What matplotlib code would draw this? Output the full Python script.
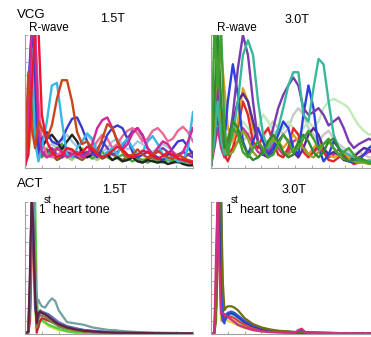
import numpy as np
import matplotlib.pyplot as plt

plt.rcParams['font.family'] = ['Liberation Sans', 'DejaVu Sans']

# shared x grid (percent of beat) for the VCG traces
x_vcg = [0, 2, 4, 6, 8, 10, 13, 16, 19, 22, 25, 28, 31, 34, 37, 40, 43, 46, 49, 52,
         55, 58, 61, 64, 67, 70, 73, 76, 79, 82, 85, 88, 91, 94, 97, 100]

# VCG 1.5T
v15_orange = [0.05, 0.72, 0.3, 0.15, 0.35, 0.3, 0.22, 0.32, 0.52, 0.66, 0.66, 0.5, 0.27, 0.18, 0.2, 0.15, 0.12, 0.22,
              0.33, 0.3, 0.2, 0.12, 0.08, 0.1, 0.14, 0.1, 0.08, 0.1, 0.13, 0.1, 0.08, 0.07, 0.1, 0.08, 0.06, 0.05]
v15_cyan = [0.05, 0.4, 0.9, 0.2, 0.05, 0.15, 0.35, 0.62, 0.64, 0.35, 0.1, 0.08, 0.15, 0.2, 0.26, 0.22, 0.1, 0.08,
            0.12, 0.15, 0.1, 0.18, 0.22, 0.15, 0.1, 0.12, 0.2, 0.24, 0.18, 0.1, 0.06, 0.08, 0.05, 0.05, 0.15, 0.42]
v15_blue = [0.05, 0.6, 1.05, 0.5, 0.1, 0.22, 0.27, 0.2, 0.18, 0.22, 0.3, 0.37, 0.38, 0.3, 0.2, 0.12, 0.08, 0.15,
            0.25, 0.3, 0.32, 0.3, 0.22, 0.12, 0.08, 0.1, 0.12, 0.1, 0.08, 0.06, 0.1, 0.15, 0.2, 0.21, 0.16, 0.1]
v15_magenta = [0.03, 0.3, 1.05, 1.05, 0.3, 0.12, 0.08, 0.1, 0.15, 0.12, 0.08, 0.1, 0.12, 0.08, 0.1, 0.18, 0.3, 0.36,
               0.38, 0.3, 0.2, 0.14, 0.18, 0.26, 0.3, 0.25, 0.15, 0.1, 0.15, 0.2, 0.18, 0.12, 0.08, 0.12, 0.2, 0.3]
v15_pink = [0.03, 0.2, 0.8, 1.05, 0.5, 0.2, 0.1, 0.08, 0.1, 0.12, 0.15, 0.12, 0.1, 0.08, 0.1, 0.14, 0.2, 0.25,
            0.22, 0.15, 0.18, 0.24, 0.28, 0.3, 0.26, 0.2, 0.22, 0.28, 0.3, 0.26, 0.2, 0.22, 0.28, 0.31, 0.27, 0.2]
v15_purple = [0.03, 0.5, 1.05, 0.8, 0.2, 0.1, 0.12, 0.15, 0.1, 0.08, 0.12, 0.1, 0.08, 0.1, 0.12, 0.1, 0.14, 0.2,
              0.15, 0.1, 0.12, 0.16, 0.22, 0.28, 0.3, 0.24, 0.15, 0.1, 0.12, 0.15, 0.12, 0.08, 0.1, 0.12, 0.1, 0.08]
v15_red = [0.02, 0.1, 0.6, 1.05, 1.05, 0.4, 0.2, 0.12, 0.08, 0.1, 0.15, 0.14, 0.1, 0.12, 0.16, 0.14, 0.1, 0.08,
           0.1, 0.13, 0.16, 0.14, 0.1, 0.08, 0.1, 0.13, 0.12, 0.09, 0.07, 0.09, 0.12, 0.1, 0.07, 0.06, 0.05, 0.04]
v15_black = [0.02, 0.2, 0.7, 0.4, 0.1, 0.15, 0.22, 0.25, 0.2, 0.14, 0.2, 0.25, 0.2, 0.12, 0.08, 0.1, 0.12, 0.08,
             0.1, 0.06, 0.08, 0.05, 0.06, 0.08, 0.05, 0.04, 0.06, 0.05, 0.04, 0.05, 0.03, 0.04, 0.05, 0.03, 0.02, 0.02]
v15_green = [0.02, 0.3, 0.85, 0.3, 0.1, 0.08, 0.12, 0.1, 0.14, 0.18, 0.12, 0.08, 0.1, 0.14, 0.1, 0.07, 0.1, 0.12,
             0.08, 0.06, 0.08, 0.1, 0.07, 0.05, 0.07, 0.06, 0.04, 0.06, 0.05, 0.04, 0.06, 0.05, 0.04, 0.05, 0.04, 0.03]
v15_ltblue = [0.02, 0.15, 1.05, 0.6, 0.15, 0.12, 0.15, 0.18, 0.15, 0.2, 0.25, 0.2, 0.16, 0.2, 0.25, 0.2, 0.15, 0.12,
              0.15, 0.2, 0.22, 0.18, 0.14, 0.16, 0.2, 0.18, 0.14, 0.12, 0.15, 0.18, 0.16, 0.12, 0.1, 0.12, 0.14, 0.12]
v15_brown = [0.02, 0.25, 0.5, 0.2, 0.08, 0.1, 0.14, 0.1, 0.06, 0.08, 0.1, 0.12, 0.08, 0.06, 0.09, 0.12, 0.1, 0.07,
             0.09, 0.11, 0.08, 0.06, 0.08, 0.1, 0.07, 0.05, 0.07, 0.08, 0.06, 0.05, 0.07, 0.06, 0.05, 0.07, 0.1, 0.12]
v15_ltgreen = [0.02, 0.1, 0.3, 0.5, 0.2, 0.1, 0.08, 0.12, 0.16, 0.12, 0.08, 0.06, 0.1, 0.15, 0.12, 0.08, 0.06, 0.09,
               0.12, 0.1, 0.07, 0.05, 0.08, 0.1, 0.08, 0.06, 0.08, 0.1, 0.08, 0.06, 0.05, 0.07, 0.06, 0.04, 0.05, 0.04]

# VCG 3.0T
v30_teal = [0.02, 0.2, 0.5, 0.2, 0.1, 0.15, 0.25, 0.5, 0.85, 0.96, 0.85, 0.5, 0.25, 0.15, 0.2, 0.3, 0.45, 0.62,
            0.72, 0.72, 0.4, 0.35, 0.6, 0.82, 0.78, 0.5, 0.25, 0.15, 0.12, 0.1, 0.08, 0.06, 0.05, 0.05, 0.06, 0.05]
v30_purple = [0.02, 0.3, 0.6, 0.3, 0.1, 0.15, 0.4, 0.75, 1.0, 0.85, 0.5, 0.2, 0.1, 0.15, 0.3, 0.45, 0.55, 0.62,
              0.68, 0.62, 0.45, 0.4, 0.42, 0.45, 0.4, 0.32, 0.35, 0.38, 0.3, 0.2, 0.15, 0.18, 0.2, 0.22, 0.2, 0.22]
v30_blue = [0.02, 0.3, 0.5, 0.3, 0.2, 0.5, 0.78, 0.55, 0.2, 0.1, 0.2, 0.3, 0.2, 0.1, 0.15, 0.25, 0.35, 0.3,
            0.15, 0.1, 0.4, 0.62, 0.45, 0.15, 0.05, 0.1, 0.2, 0.15, 0.08, 0.05, 0.04, 0.06, 0.1, 0.15, 0.18, 0.14]
v30_orange = [0.02, 0.3, 0.7, 0.87, 0.6, 0.3, 0.2, 0.35, 0.6, 0.5, 0.3, 0.2, 0.15, 0.2, 0.25, 0.2, 0.15, 0.2,
              0.25, 0.2, 0.15, 0.1, 0.15, 0.2, 0.15, 0.1, 0.08, 0.1, 0.12, 0.08, 0.05, 0.04, 0.05, 0.06, 0.05, 0.04]
v30_green = [0.02, 1.05, 0.6, 1.05, 0.3, 0.1, 0.3, 0.25, 0.12, 0.08, 0.15, 0.2, 0.14, 0.08, 0.1, 0.18, 0.25, 0.2,
             0.12, 0.15, 0.22, 0.28, 0.22, 0.15, 0.18, 0.22, 0.15, 0.1, 0.12, 0.15, 0.1, 0.06, 0.05, 0.04, 0.05, 0.04]
v30_dkgreen = [0.02, 0.5, 1.05, 0.5, 0.15, 0.2, 0.35, 0.3, 0.18, 0.1, 0.06, 0.08, 0.12, 0.2, 0.25, 0.2, 0.12, 0.08,
               0.1, 0.2, 0.25, 0.2, 0.12, 0.08, 0.12, 0.2, 0.22, 0.15, 0.08, 0.05, 0.06, 0.08, 0.06, 0.04, 0.03, 0.03]
v30_red = [0.02, 0.2, 0.5, 0.3, 0.1, 0.05, 0.15, 0.3, 0.5, 0.4, 0.2, 0.15, 0.25, 0.3, 0.2, 0.1, 0.08, 0.15,
           0.3, 0.25, 0.12, 0.08, 0.12, 0.18, 0.12, 0.06, 0.05, 0.08, 0.1, 0.06, 0.03, 0.04, 0.06, 0.04, 0.03, 0.03]
v30_pale = [0.02, 0.2, 0.7, 0.4, 0.2, 0.15, 0.2, 0.3, 0.35, 0.3, 0.25, 0.3, 0.4, 0.35, 0.28, 0.25, 0.3, 0.35,
            0.3, 0.25, 0.3, 0.35, 0.3, 0.35, 0.45, 0.5, 0.52, 0.5, 0.48, 0.45, 0.38, 0.32, 0.28, 0.25, 0.26, 0.28]
v30_gray = [0.02, 0.3, 0.6, 0.3, 0.2, 0.25, 0.3, 0.25, 0.2, 0.25, 0.3, 0.28, 0.22, 0.3, 0.35, 0.3, 0.25, 0.3,
            0.4, 0.45, 0.4, 0.3, 0.25, 0.2, 0.25, 0.28, 0.22, 0.18, 0.15, 0.12, 0.1, 0.12, 0.1, 0.08, 0.08, 0.07]
v30_dkpurple = [0.02, 0.2, 0.4, 0.2, 0.1, 0.2, 0.35, 0.5, 0.56, 0.5, 0.35, 0.2, 0.1, 0.08, 0.12, 0.2, 0.25, 0.2,
                0.12, 0.08, 0.15, 0.25, 0.3, 0.25, 0.15, 0.1, 0.12, 0.1, 0.06, 0.05, 0.08, 0.12, 0.15, 0.14, 0.1, 0.08]
v30_olive = [0.02, 0.4, 0.9, 0.4, 0.15, 0.1, 0.12, 0.2, 0.28, 0.22, 0.12, 0.08, 0.12, 0.18, 0.22, 0.18, 0.12, 0.1,
             0.14, 0.18, 0.15, 0.1, 0.08, 0.12, 0.18, 0.2, 0.15, 0.1, 0.07, 0.06, 0.05, 0.04, 0.04, 0.03, 0.03, 0.03]
v30_magenta = [0.02, 0.15, 0.3, 0.15, 0.08, 0.1, 0.15, 0.2, 0.3, 0.25, 0.18, 0.12, 0.1, 0.12, 0.18, 0.15, 0.1, 0.12,
               0.2, 0.22, 0.16, 0.1, 0.12, 0.15, 0.12, 0.08, 0.1, 0.14, 0.12, 0.08, 0.06, 0.08, 0.1, 0.12, 0.15, 0.16]

# shared x grid for the ACT traces
x_act = [0, 2, 3, 4, 5, 6, 7, 8, 9, 10, 12, 14, 16, 18, 20, 25, 30, 35, 40, 45, 50, 52, 54, 56, 60, 70, 80, 90, 100]

# ACT 1.5T
a15_gray = [0, 0.02, 0.4, 1.05, 1.05, 0.5, 0.22, 0.26, 0.23, 0.21, 0.2, 0.24, 0.27, 0.25, 0.18, 0.09, 0.08, 0.07,
            0.05, 0.04, 0.03, 0.03, 0.025, 0.025, 0.02, 0.012, 0.01, 0.008, 0.006]
a15_maroon = [0, 0.02, 0.5, 1.05, 0.8, 0.3, 0.08, 0.16, 0.17, 0.16, 0.15, 0.13, 0.11, 0.09, 0.075, 0.05, 0.035, 0.025,
              0.02, 0.015, 0.012, 0.011, 0.01, 0.01, 0.01, 0.008, 0.006, 0.005, 0.005]
a15_slate = [0, 0.02, 0.3, 1.05, 1.05, 0.4, 0.1, 0.15, 0.18, 0.17, 0.16, 0.15, 0.13, 0.11, 0.09, 0.06, 0.045, 0.03,
             0.025, 0.02, 0.015, 0.013, 0.012, 0.011, 0.01, 0.008, 0.006, 0.005, 0.005]
a15_green = [0, 0.01, 0.2, 0.9, 1.05, 1.05, 0.3, 0.05, 0.1, 0.1, 0.09, 0.07, 0.06, 0.05, 0.04, 0.02, 0.012, 0.01,
             0.01, 0.01, 0.01, 0.025, 0.03, 0.015, 0.008, 0.006, 0.005, 0.004, 0.004]
a15_yellow = [0, 0.01, 0.3, 1.05, 0.9, 0.2, 0.03, 0.08, 0.1, 0.1, 0.08, 0.06, 0.05, 0.04, 0.03, 0.02, 0.012, 0.01,
              0.008, 0.007, 0.006, 0.006, 0.005, 0.005, 0.005, 0.004, 0.004, 0.003, 0.003]
a15_red = [0, 0.01, 0.1, 0.6, 1.05, 0.5, 0.01, 0.06, 0.1, 0.12, 0.11, 0.1, 0.09, 0.08, 0.06, 0.04, 0.03, 0.02,
           0.015, 0.012, 0.01, 0.01, 0.01, 0.01, 0.008, 0.006, 0.005, 0.004, 0.004]
a15_blue = [0, 0.02, 0.4, 1.05, 0.7, 0.2, 0.1, 0.14, 0.16, 0.16, 0.15, 0.14, 0.12, 0.1, 0.085, 0.055, 0.04, 0.03,
            0.022, 0.018, 0.014, 0.013, 0.012, 0.011, 0.01, 0.008, 0.006, 0.005, 0.005]
a15_olive = [0, 0.01, 0.2, 0.8, 1.05, 0.6, 0.05, 0.12, 0.14, 0.14, 0.13, 0.11, 0.09, 0.075, 0.06, 0.04, 0.028, 0.02,
             0.015, 0.012, 0.01, 0.01, 0.01, 0.009, 0.008, 0.006, 0.005, 0.004, 0.004]

# ACT 3.0T
a30_olive = [0, 0.01, 0.1, 0.8, 1.05, 1.05, 0.4, 0.18, 0.2, 0.21, 0.21, 0.2, 0.18, 0.15, 0.12, 0.075, 0.05, 0.035,
             0.025, 0.02, 0.015, 0.014, 0.013, 0.012, 0.01, 0.008, 0.006, 0.005, 0.005]
a30_blue = [0, 0.01, 0.2, 0.7, 1.05, 1.05, 0.1, 0.08, 0.14, 0.16, 0.17, 0.16, 0.14, 0.12, 0.1, 0.065, 0.045, 0.03,
            0.022, 0.018, 0.014, 0.02, 0.025, 0.015, 0.01, 0.008, 0.006, 0.005, 0.005]
a30_navy = [0, 0.01, 0.2, 0.9, 1.05, 0.6, 0.12, 0.1, 0.12, 0.15, 0.16, 0.15, 0.13, 0.11, 0.09, 0.06, 0.04, 0.028,
            0.02, 0.016, 0.012, 0.011, 0.01, 0.01, 0.009, 0.007, 0.006, 0.005, 0.005]
a30_magenta = [0, 0.01, 0.6, 1.05, 0.5, 0.15, 0.16, 0.15, 0.14, 0.13, 0.11, 0.09, 0.07, 0.06, 0.05, 0.03, 0.02, 0.015,
               0.012, 0.01, 0.01, 0.03, 0.04, 0.015, 0.01, 0.008, 0.006, 0.005, 0.005]
a30_yellow = [0, 0.01, 0.3, 1.05, 0.5, 0.1, 0.12, 0.12, 0.11, 0.1, 0.09, 0.08, 0.065, 0.055, 0.045, 0.03, 0.02, 0.015,
              0.012, 0.01, 0.008, 0.008, 0.007, 0.007, 0.006, 0.005, 0.004, 0.004, 0.004]
a30_ltgreen = [0, 0.01, 0.2, 0.9, 1.05, 0.3, 0.1, 0.13, 0.13, 0.12, 0.11, 0.1, 0.085, 0.07, 0.055, 0.035, 0.025, 0.018,
               0.014, 0.011, 0.009, 0.009, 0.008, 0.008, 0.007, 0.006, 0.005, 0.004, 0.004]
a30_red = [0, 0.01, 0.4, 1.05, 0.8, 0.2, 0.1, 0.14, 0.15, 0.14, 0.13, 0.12, 0.1, 0.085, 0.07, 0.045, 0.03, 0.022,
           0.016, 0.013, 0.01, 0.01, 0.01, 0.009, 0.008, 0.006, 0.005, 0.004, 0.004]
a30_cyan = [0, 0.01, 0.2, 0.7, 1.05, 0.8, 0.15, 0.12, 0.15, 0.16, 0.15, 0.14, 0.12, 0.1, 0.08, 0.05, 0.035, 0.025,
            0.018, 0.014, 0.011, 0.01, 0.01, 0.009, 0.008, 0.006, 0.005, 0.004, 0.004]

vcg15 = [v15_ltblue, v15_ltgreen, v15_brown, v15_green, v15_black, v15_purple, v15_pink,
         v15_blue, v15_cyan, v15_magenta, v15_orange, v15_red]
vcg15_colors = ['#a8c8e0', '#a8d070', '#8a5a20', '#48a848', '#222222', '#7a38b0', '#e86a98',
                '#3a3ad0', '#38b8e8', '#d02898', '#c8461a', '#ee1530']
vcg30 = [v30_gray, v30_pale, v30_magenta, v30_red, v30_orange, v30_dkpurple, v30_blue,
         v30_purple, v30_teal, v30_olive, v30_dkgreen, v30_green]
vcg30_colors = ['#c8c8c8', '#c0eab8', '#c83888', '#e02828', '#e0a028', '#5a2a90', '#2a40e0',
                '#7a3ab0', '#38b898', '#90a028', '#308830', '#40a030']
act15 = [a15_yellow, a15_green, a15_red, a15_olive, a15_blue, a15_slate, a15_gray, a15_maroon]
act15_colors = ['#c8e040', '#50d040', '#d02030', '#808040', '#4050c0', '#6070b0', '#70a0a0', '#602040']
act30 = [a30_ltgreen, a30_yellow, a30_cyan, a30_red, a30_navy, a30_blue, a30_olive, a30_magenta]
act30_colors = ['#a0e080', '#e0d040', '#40c0d0', '#e04040', '#2030a0', '#3050e0', '#707010', '#d03080']

W, H = 371, 337
fig = plt.figure(figsize=(W / 100, H / 100), dpi=100)


def make_ax(left, top, bottom, width=168):
    ax = fig.add_axes([left / W, 1 - bottom / H, width / W, (bottom - top) / H])
    ax.set_xlim(0, 100)
    ax.set_ylim(0, 1)
    for s in ['top', 'right']:
        ax.spines[s].set_visible(False)
    for s in ['left', 'bottom']:
        ax.spines[s].set_color('#a0a0a0')
        ax.spines[s].set_linewidth(0.8)
    ax.set_xticks(np.arange(0, 101, 10))
    ax.set_yticks(np.arange(0, 1.01, 0.1))
    ax.tick_params(direction='in', length=2.5, width=0.6, colors='#a0a0a0',
                   labelleft=False, labelbottom=False)
    return ax


panels = [
    (make_ax(25, 35, 168), x_vcg, vcg15, vcg15_colors, 1.7),
    (make_ax(211, 35, 168), x_vcg, vcg30, vcg30_colors, 1.7),
    (make_ax(25, 202, 334), x_act, act15, act15_colors, 1.6),
    (make_ax(211, 202, 334), x_act, act30, act30_colors, 1.6),
]
for ax, xs, curves, colors, lw in panels:
    for ys, c in zip(curves, colors):
        ax.plot(xs, ys, color=c, lw=lw, solid_joinstyle='round')


def label(x, y, s, size):
    fig.text(x / W, 1 - y / H, s, fontsize=size, va='baseline', ha='left')


label(17, 18, 'VCG', 9.5)
label(100, 22, '1.5T', 9)
label(29, 31, 'R-wave', 8.5)
label(285, 23, '3.0T', 9)
label(217, 31, 'R-wave', 8.5)
label(17, 187, 'ACT', 9.5)
label(102, 193, '1.5T', 9)
label(282, 193, '3.0T', 9)
for x0 in (38, 225):
    label(x0, 213, '1', 8.5)
    label(x0 + 6, 203, 'st', 7)
    label(x0 + 15, 213, 'heart tone', 9)

fig.savefig('out.png', dpi=100)
